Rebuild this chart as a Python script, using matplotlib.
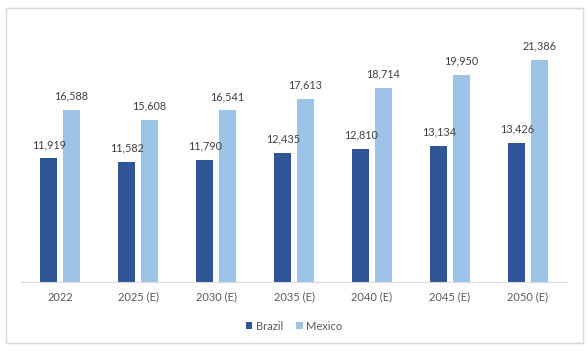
import numpy as np
import matplotlib.pyplot as plt
from matplotlib.patches import Rectangle

# du lieu
categories = ['2022', '2025 (E)', '2030 (E)', '2035 (E)', '2040 (E)', '2045 (E)', '2050 (E)']
brazil = [11919, 11582, 11790, 12435, 12810, 13134, 13426]
mexico = [16588, 15608, 16541, 17613, 18714, 19950, 21386]

W, H = 587, 353
fig = plt.figure(figsize=(W / 100, H / 100), dpi=100)
plt.rcParams['font.family'] = ['Lato', 'DejaVu Sans']

# khung ngoai
fig.patches.append(Rectangle((6 / W, 1 - 343 / H), 577 / W, 335 / H, transform=fig.transFigure,
                             fill=False, edgecolor='#d9d9d9', linewidth=1))

ax = fig.add_axes([21 / W, 1 - 282 / H, 546 / W, 259.5 / H])
x = np.arange(len(categories))
bw = 0.22
off = 0.143
b1 = ax.bar(x - off, brazil, bw, color='#2f5597', label='Brazil')
b2 = ax.bar(x + off, mexico, bw, color='#9dc3e6', label='Mexico')

for bars, vals in [(b1, brazil), (b2, mexico)]:
    for r, v in zip(bars, vals):
        ax.annotate(f'{v:,}', (r.get_x() + r.get_width() / 2, v), xytext=(0, 6),
                    textcoords='offset points', ha='center', va='bottom',
                    fontsize=7.8, color='#404040')

ax.set_xlim(-0.5, len(categories) - 0.5)
ax.set_ylim(0, 25000)
ax.set_yticks([])
ax.set_xticks(x)
ax.set_xticklabels(categories, fontsize=8, color='#595959')
ax.tick_params(axis='x', length=0, pad=7)
for s in ['top', 'right', 'left']:
    ax.spines[s].set_visible(False)
ax.spines['bottom'].set_color('#d9d9d9')

ax.legend(loc='center', bbox_to_anchor=(0.5, -0.17), ncol=2, frameon=False,
          fontsize=8, handlelength=0.6, handleheight=0.6, handletextpad=0.3,
          columnspacing=1.2, labelcolor='#595959')

fig.savefig('out.png', dpi=100)
